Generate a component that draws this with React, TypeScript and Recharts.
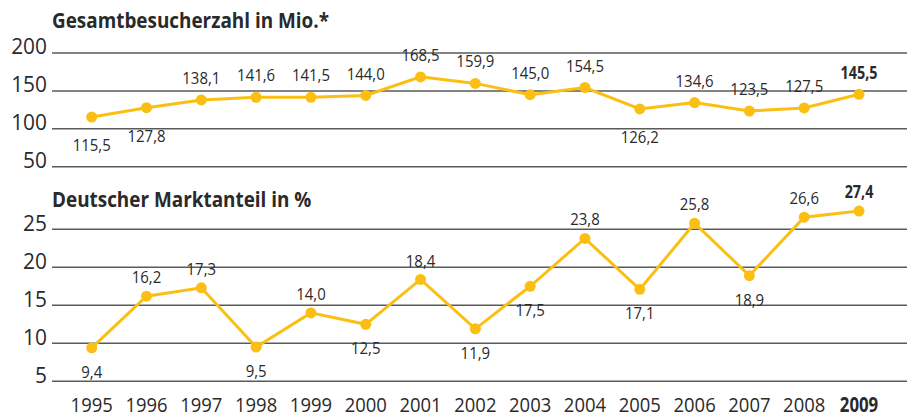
import React from 'react';
import { LineChart, Line, XAxis, YAxis, ReferenceLine } from 'recharts';

// years shown on the shared x axis
const years = ['1995', '1996', '1997', '1998', '1999', '2000', '2001', '2002', '2003', '2004', '2005', '2006', '2007', '2008', '2009'];

// Gesamtbesucherzahl in Mio.
const visitors = [115.5, 127.8, 138.1, 141.6, 141.5, 144.0, 168.5, 159.9, 145.0, 154.5, 126.2, 134.6, 123.5, 127.5, 145.5];
// Deutscher Marktanteil in %
const share = [9.4, 16.2, 17.3, 9.5, 14.0, 12.5, 18.4, 11.9, 17.5, 23.8, 17.1, 25.8, 18.9, 26.6, 27.4];

const visitorTicks = [50, 100, 150, 200];
const shareTicks = [5, 10, 15, 20, 25];

// which value labels sit under their point
const visitorsBelow = ['1995', '1996', '2005'];
const shareBelow = ['1995', '1998', '2000', '2002', '2003', '2005', '2007'];

const topData = years.map((year, i) => ({ year, value: visitors[i] }));
const bottomData = years.map((year, i) => ({ year, value: share[i] }));

const FONT = "'Open Sans', 'Noto Sans', sans-serif";
const SX = 0.88; // squeeze to mimic the condensed original face
const YELLOW = '#FBBF14';
const TEXT = '#2a2a2a';
const GRID = '#5a5a5a';

const fmt = (v: number) => v.toFixed(1).replace('.', ',');

interface TxtProps {
  x: number;
  y: number;
  size: number;
  anchor?: 'start' | 'middle' | 'end';
  bold?: boolean;
  sx?: number;
  dy?: string;
  children: React.ReactNode;
}

function Txt({ x, y, size, anchor = 'middle', bold, sx = SX, dy, children }: TxtProps) {
  return (
    <text
      transform={`translate(${x},${y}) scale(${sx},1)`}
      dy={dy}
      textAnchor={anchor}
      fontFamily={FONT}
      fontSize={size}
      fontWeight={bold ? 700 : 400}
      fill={TEXT}
    >
      {children}
    </text>
  );
}

// eslint-disable-next-line @typescript-eslint/no-explicit-any
function YTick({ x, y, payload }: any) {
  return (
    <Txt x={x} y={y + 1.2} size={22} anchor="end" sx={0.95}>
      {payload.value}
    </Txt>
  );
}

// eslint-disable-next-line @typescript-eslint/no-explicit-any
function XTick({ x, y, payload }: any) {
  const last = payload.value === years[years.length - 1];
  return (
    <Txt x={x} y={y + 31} size={20.5} bold={last} sx={last ? 0.82 : 0.9}>
      {payload.value}
    </Txt>
  );
}

function makeLabel(below: string[], up: number, down: number) {
  // eslint-disable-next-line @typescript-eslint/no-explicit-any
  return (props: any) => {
    const { x, y, value, index } = props;
    const last = index === years.length - 1;
    const off = below.includes(years[index]) ? down : up;
    return (
      <Txt key={`l-${index}`} x={x} y={y + off} dy="0.357em" size={last ? 17.5 : 17} bold={last} sx={last ? 0.82 : SX}>
        {fmt(value)}
      </Txt>
    );
  };
}

const xPadding = { left: 39.7, right: 48 };

export default function App() {
  return (
    <div style={{ position: 'absolute', left: 0, top: 0, width: 914, height: 418, background: '#fff', overflow: 'hidden' }}>
      <div style={{ position: 'absolute', left: 0, top: 0 }}>
        <LineChart width={914} height={180} data={topData} margin={{ top: 53, right: 7, bottom: 13.3, left: 0 }}>
          <XAxis dataKey="year" hide padding={xPadding} />
          <YAxis
            domain={[50, 200]}
            ticks={visitorTicks}
            width={52}
            axisLine={false}
            tickLine={false}
            tickSize={3}
            tickMargin={2}
            tick={<YTick />}
            interval={0}
          />
          {visitorTicks.map((t) => (
            <ReferenceLine key={t} y={t} stroke={GRID} strokeWidth={1.5} />
          ))}
          <Line
            dataKey="value"
            stroke={YELLOW}
            strokeWidth={3}
            dot={{ r: 5.5, fill: YELLOW, stroke: YELLOW, strokeWidth: 0 }}
            activeDot={false}
            isAnimationActive={false}
            label={makeLabel(visitorsBelow, -22, 28)}
          />
        </LineChart>
      </div>

      <div style={{ position: 'absolute', left: 0, top: 180 }}>
        {/* domain runs to 30 so the last points may rise above the 25 line */}
        <LineChart width={914} height={238} data={bottomData} margin={{ top: 11.3, right: 7, bottom: 0, left: 0 }}>
          <XAxis
            dataKey="year"
            padding={xPadding}
            height={36.7}
            axisLine={false}
            tickLine={false}
            tickSize={0}
            tickMargin={0}
            tick={<XTick />}
            interval={0}
          />
          <YAxis
            domain={[5, 30]}
            ticks={shareTicks}
            width={52}
            axisLine={false}
            tickLine={false}
            tickSize={3}
            tickMargin={2}
            tick={<YTick />}
            interval={0}
          />
          {shareTicks.map((t) => (
            <ReferenceLine key={t} y={t} stroke={GRID} strokeWidth={1.5} />
          ))}
          <Line
            dataKey="value"
            stroke={YELLOW}
            strokeWidth={3}
            dot={{ r: 5.5, fill: YELLOW, stroke: YELLOW, strokeWidth: 0 }}
            activeDot={false}
            isAnimationActive={false}
            label={makeLabel(shareBelow, -19, 24)}
          />
        </LineChart>
      </div>

      <svg width={914} height={418} style={{ position: 'absolute', left: 0, top: 0, pointerEvents: 'none' }}>
        <Txt x={52} y={28.3} size={21} anchor="start" bold sx={0.9}>
          Gesamtbesucherzahl in Mio.*
        </Txt>
        <Txt x={52} y={206.5} size={21} anchor="start" bold sx={0.9}>
          Deutscher Marktanteil in %
        </Txt>
      </svg>
    </div>
  );
}
